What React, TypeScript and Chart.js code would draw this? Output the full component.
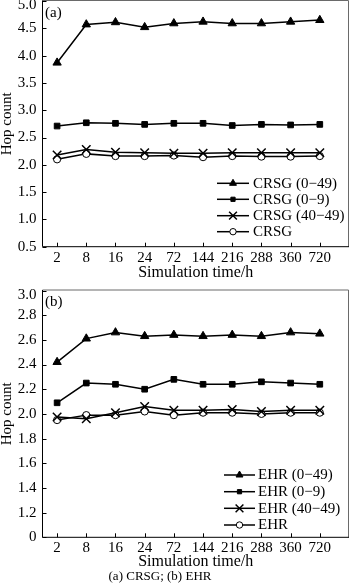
import React, { useEffect, useRef } from 'react';
import { Chart, registerables } from 'chart.js';
import { drawPoint } from 'chart.js/helpers';

Chart.register(...registerables);

const FONT = "'Liberation Serif', 'Times New Roman', serif";

const timeLabels = ['2', '8', '16', '24', '72', '144', '216', '288', '360', '720'];

const crsgNames = ['CRSG (0\u221249)', 'CRSG (0\u22129)', 'CRSG (40\u221249)', 'CRSG'];
const crsg049 = [3.87, 4.57, 4.61, 4.52, 4.59, 4.62, 4.59, 4.59, 4.62, 4.65];
const crsg09 = [2.71, 2.77, 2.76, 2.74, 2.76, 2.76, 2.72, 2.74, 2.73, 2.74];
const crsg4049 = [2.18, 2.28, 2.23, 2.22, 2.21, 2.21, 2.22, 2.22, 2.22, 2.22];
const crsgAll = [2.1, 2.2, 2.16, 2.16, 2.17, 2.14, 2.16, 2.15, 2.15, 2.16];

const ehrNames = ['EHR (0\u221249)', 'EHR (0\u22129)', 'EHR (40\u221249)', 'EHR'];
const ehr049 = [2.42, 2.61, 2.66, 2.63, 2.64, 2.63, 2.64, 2.63, 2.66, 2.65];
const ehr09 = [2.09, 2.25, 2.24, 2.2, 2.28, 2.24, 2.24, 2.26, 2.25, 2.24];
const ehr4049 = [1.975, 1.96, 2.01, 2.06, 2.03, 2.03, 2.035, 2.02, 2.03, 2.03];
const ehrAll = [1.95, 1.99, 1.99, 2.02, 1.99, 2.01, 2.01, 2.0, 2.01, 2.01];

const styles = [
  { pointStyle: 'triangle', radius: 4.8, fill: '#000', bw: 1, legendRadius: 4 },
  { pointStyle: 'rect', radius: 4, fill: '#000', bw: 1, legendRadius: 3 },
  { pointStyle: 'crossRot', radius: 6, fill: '#000', bw: 1.5, legendRadius: 5.5 },
  { pointStyle: 'circle', radius: 3.6, fill: '#fff', bw: 1, legendRadius: 3.2 },
];

type PanelCfg = {
  top: number;
  height: number;
  areaTop: number;
  areaBottom: number;
  yMin: number;
  yMax: number;
  step: number;
  zeroBottom: boolean;
  names: string[];
  series: number[][];
  panel: string;
  legend: { x1: number; x2: number; tx: number; rows: number[] };
};

const panelA: PanelCfg = {
  top: 0,
  height: 285,
  areaTop: 1,
  areaBottom: 246.7,
  yMin: 0.5,
  yMax: 5.0,
  step: 0.5,
  zeroBottom: false,
  names: crsgNames,
  series: [crsg049, crsg09, crsg4049, crsgAll],
  panel: '(a)',
  legend: { x1: 217, x2: 249, tx: 253, rows: [183.3, 199.3, 215.7, 231.7] },
};

const panelB: PanelCfg = {
  top: 286,
  height: 288,
  areaTop: 4.5,
  areaBottom: 251.3,
  yMin: 1.0,
  yMax: 3.0,
  step: 0.2,
  zeroBottom: true,
  names: ehrNames,
  series: [ehr049, ehr09, ehr4049, ehrAll],
  panel: '(b)',
  legend: { x1: 224, x2: 255, tx: 258, rows: [189, 205.7, 222.3, 239] },
};

function Panel({ cfg }: { cfg: PanelCfg }) {
  const ref = useRef<HTMLCanvasElement>(null);
  useEffect(() => {
    const canvas = ref.current!;
    const datasets = cfg.series.map((vals, k) => ({
      label: cfg.names[k],
      data: vals.map((v, i) => ({ x: i, y: v })),
      borderColor: '#000',
      borderWidth: 1.5,
      pointStyle: styles[k].pointStyle as any,
      pointRadius: styles[k].radius,
      pointBackgroundColor: styles[k].fill,
      pointBorderColor: '#000',
      pointBorderWidth: styles[k].bw,
      fill: false,
      tension: 0,
    }));

    const isTop = (v: number) => Math.abs(v - cfg.yMax) < 1e-6;

    const overlay = {
      id: 'overlay',
      afterDraw(chart: any) {
        const { ctx, chartArea: a, scales } = chart;
        ctx.save();
        // frame
        ctx.lineWidth = 1;
        ctx.strokeStyle = '#6a6a6a';
        ctx.beginPath();
        ctx.moveTo(a.left, a.top - 0.5);
        ctx.lineTo(a.right - 0.5, a.top - 0.5);
        ctx.lineTo(a.right - 0.5, a.bottom);
        ctx.stroke();
        ctx.strokeStyle = '#000';
        ctx.beginPath();
        ctx.moveTo(a.left, a.top - 0.5);
        ctx.lineTo(a.left, a.bottom);
        ctx.lineTo(a.right, a.bottom);
        ctx.stroke();
        // inward ticks
        timeLabels.forEach((_, i) => {
          const px = Math.round(scales.x.getPixelForValue(i)) + 0.5;
          ctx.beginPath();
          ctx.moveTo(px, a.bottom);
          ctx.lineTo(px, a.bottom - 4);
          ctx.stroke();
        });
        scales.y.ticks.forEach((t: any) => {
          const py = Math.round(scales.y.getPixelForValue(t.value)) + 0.5;
          ctx.beginPath();
          ctx.moveTo(a.left, py);
          ctx.lineTo(a.left + 4, py);
          ctx.stroke();
        });
        // top tick label (shifted into view)
        ctx.fillStyle = '#000';
        ctx.font = `15px ${FONT}`;
        ctx.textAlign = 'right';
        ctx.textBaseline = 'middle';
        ctx.fillText(cfg.yMax.toFixed(1), a.left - 6, scales.y.getPixelForValue(cfg.yMax) + 4.5);
        // panel label
        ctx.textAlign = 'left';
        ctx.fillText(cfg.panel, 45, a.top + 12);
        // legend
        const lg = cfg.legend;
        chart.data.datasets.forEach((ds: any, k: number) => {
          const y = lg.rows[k];
          ctx.strokeStyle = '#000';
          ctx.lineWidth = 1.5;
          ctx.beginPath();
          ctx.moveTo(lg.x1, y);
          ctx.lineTo(lg.x2, y);
          ctx.stroke();
          ctx.fillStyle = styles[k].fill;
          ctx.lineWidth = styles[k].bw;
          drawPoint(ctx, {
            pointStyle: styles[k].pointStyle as any,
            radius: styles[k].legendRadius,
            rotation: 0,
            borderWidth: styles[k].bw,
          } as any, (lg.x1 + lg.x2) / 2, y);
          ctx.fillStyle = '#000';
          ctx.textAlign = 'left';
          ctx.textBaseline = 'middle';
          ctx.font = `15px ${FONT}`;
          ctx.fillText(ds.label, lg.tx, y + 0.5);
        });
        ctx.restore();
      },
    };

    const chart = new Chart(canvas, {
      type: 'line',
      data: { datasets },
      options: {
        responsive: false,
        animation: false,
        devicePixelRatio: 1,
        layout: { autoPadding: false, padding: { top: cfg.areaTop, right: 1, left: 0, bottom: 0 } },
        plugins: {
          legend: { display: false },
          tooltip: { enabled: false },
          title: { display: false },
        },
        scales: {
          x: {
            type: 'linear',
            min: -0.5,
            max: timeLabels.length,
            afterBuildTicks: (s: any) => {
              s.ticks = timeLabels.map((_, i) => ({ value: i }));
            },
            ticks: {
              autoSkip: false,
              maxRotation: 0,
              padding: 2,
              color: '#000',
              font: { family: FONT, size: 15 },
              callback: (v: any) => {
                const n = Number(v);
                return Number.isInteger(n) && n >= 0 && n < timeLabels.length ? timeLabels[n] : '';
              },
            },
            grid: { display: false, drawTicks: false },
            border: { display: false },
            title: {
              display: true,
              text: 'Simulation time/h',
              color: '#000',
              font: { family: FONT, size: 16, lineHeight: 1 },
              padding: { top: 0, bottom: 4 },
            },
            afterFit: (s: any) => {
              s.height = cfg.height - cfg.areaBottom;
              s.paddingLeft = 0;
              s.paddingRight = 0;
            },
          },
          y: {
            type: 'linear',
            min: cfg.yMin,
            max: cfg.yMax,
            ticks: {
              stepSize: cfg.step,
              padding: 6,
              color: '#000',
              font: { family: FONT, size: 15 },
              callback: (v: any) => {
                const n = Number(v);
                if (isTop(n)) return '';
                if (cfg.zeroBottom && Math.abs(n - cfg.yMin) < 1e-6) return '0';
                return n.toFixed(1);
              },
            },
            grid: { display: false, drawTicks: false },
            border: { display: false },
            title: {
              display: true,
              text: 'Hop count',
              color: '#000',
              font: { family: FONT, size: 15, lineHeight: 1 },
              padding: { top: 0, bottom: 0 },
            },
            afterFit: (s: any) => {
              s.width = 42.5;
              s.paddingTop = 0;
              s.paddingBottom = 0;
            },
          },
        },
      } as any,
      plugins: [overlay],
    });
    return () => chart.destroy();
  }, []);
  return (
    <canvas
      ref={ref}
      width={350}
      height={cfg.height}
      style={{ position: 'absolute', left: 0, top: cfg.top, width: 350, height: cfg.height }}
    />
  );
}

export default function App() {
  return (
    <div style={{ position: 'absolute', left: 0, top: 0, width: 350, height: 588, background: '#fff', overflow: 'hidden' }}>
      <Panel cfg={panelA} />
      <Panel cfg={panelB} />
      <div
        style={{
          position: 'absolute',
          left: 0,
          top: 568,
          width: 320,
          textAlign: 'center',
          fontFamily: FONT,
          fontSize: 13,
          lineHeight: '16px',
          color: '#000',
        }}
      >
        (a) CRSG; (b) EHR
      </div>
    </div>
  );
}
